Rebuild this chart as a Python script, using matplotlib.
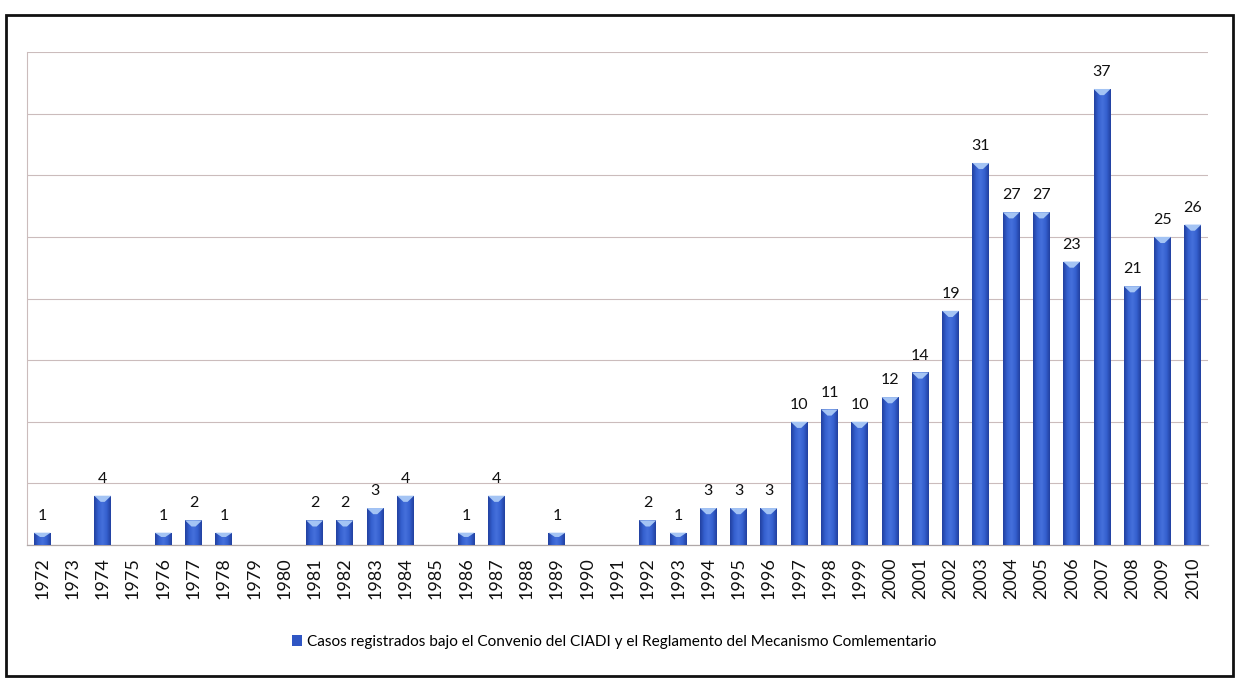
import matplotlib
matplotlib.use("Agg")
import matplotlib.pyplot as plt
import numpy as np
from matplotlib.patches import Rectangle, Polygon
from matplotlib.colors import LinearSegmentedColormap

years = ["1972", "1973", "1974", "1975", "1976", "1977", "1978", "1979", "1980",
         "1981", "1982", "1983", "1984", "1985", "1986", "1987", "1988", "1989",
         "1990", "1991", "1992", "1993", "1994", "1995", "1996", "1997", "1998",
         "1999", "2000", "2001", "2002", "2003", "2004", "2005", "2006", "2007",
         "2008", "2009", "2010"]
casos = [1, 0, 4, 0, 1, 2, 1, 0, 0,
         2, 2, 3, 4, 0, 1, 4, 0, 1,
         0, 0, 2, 1, 3, 3, 3, 10, 11,
         10, 12, 14, 19, 31, 27, 27, 23, 37,
         21, 25, 26]
serie = "Casos registrados bajo el Convenio del CIADI y el Reglamento del Mecanismo Comlementario"

plt.rcParams['font.family'] = ['Lato', 'DejaVu Sans']

fig = plt.figure(figsize=(12.43, 6.81), dpi=100)
ax = fig.add_axes([27/1243, 1 - 545/681, (1208 - 27)/1243, (545 - 52)/681])

x = np.arange(len(years))
bars = ax.bar(x, casos, width=0.56, color='#2f56c4', edgecolor='none', zorder=3,
              label=serie)

cmap = LinearSegmentedColormap.from_list('cyl', ['#21409f', '#3560cf', '#4571dc', '#3560cf', '#21409f'])
grad = np.linspace(0, 1, 64).reshape(1, -1)
for b, v in zip(bars, casos):
    if v <= 0:
        continue
    bx, bw, bh = b.get_x(), b.get_width(), b.get_height()
    im = ax.imshow(grad, cmap=cmap, aspect='auto', extent=[bx, bx + bw, 0, bh],
                   zorder=3.5, interpolation='bicubic')
    im.set_clip_path(b)
    cap = min(0.5, bh * 0.35)
    ax.add_patch(Polygon([[bx, bh], [bx + bw, bh], [bx + bw * 0.62, bh - cap],
                          [bx + bw * 0.38, bh - cap]], closed=True,
                         facecolor='#a4c4f4', edgecolor='none', zorder=4))
    ax.text(b.get_x() + bw / 2, bh + 0.8, str(v), ha='center', va='bottom',
            fontsize=11.5, color='#111111', zorder=5)

ax.set_xlim(-0.5, len(years) - 0.5)
ax.set_ylim(0, 40)
ax.set_yticks(np.arange(0, 41, 5))
ax.yaxis.grid(True, color='#cbbcbc', linewidth=0.8, zorder=0)
ax.set_yticklabels([])
ax.tick_params(axis='y', length=0)
ax.set_xticks(x)
ax.set_xticklabels(years, rotation=90, fontsize=13, color='#111111')
ax.tick_params(axis='x', length=0, pad=9)
for s in ['top', 'right']:
    ax.spines[s].set_visible(False)
ax.spines['left'].set_color('#cbbcbc')
ax.spines['left'].set_linewidth(0.8)
ax.spines['bottom'].set_color('#b0a8a8')
ax.spines['bottom'].set_linewidth(0.9)

leg = fig.legend(handles=[Rectangle((0, 0), 1, 1, facecolor='#2f56c4')], labels=[serie],
                 loc='center', bbox_to_anchor=(614/1243, 1 - 642/681), frameon=False,
                 prop={'family': ['Lato', 'DejaVu Sans'], 'size': 11.1},
                 handlelength=0.7, handleheight=0.7, handletextpad=0.3)

fig.add_artist(Rectangle((6/1243, 1 - 676/681), (1233 - 6)/1243, (676 - 15)/681,
                         transform=fig.transFigure, fill=False, edgecolor='#111111',
                         linewidth=2))

fig.savefig("out.png", dpi=100)
